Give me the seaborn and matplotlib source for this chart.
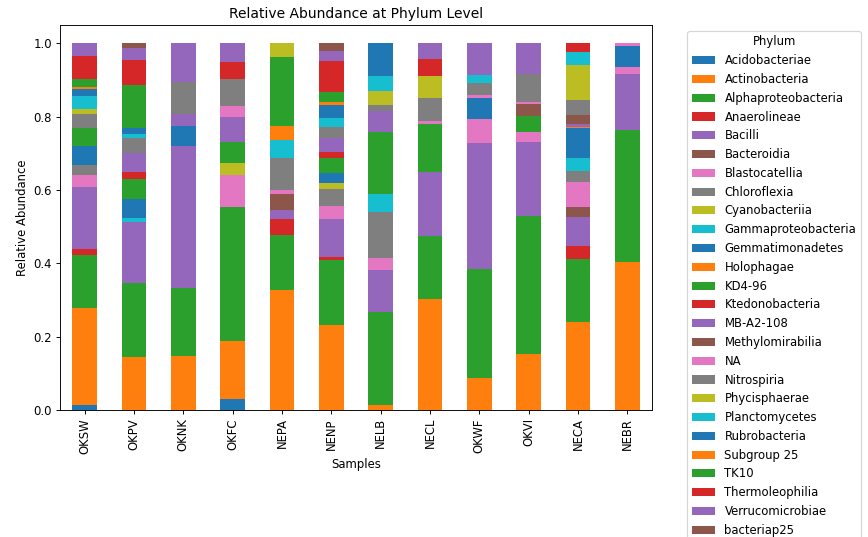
import numpy as np
import pandas as pd
import matplotlib
matplotlib.use("Agg")
import matplotlib.pyplot as plt
from matplotlib.patches import Patch
import seaborn as sns

samples = ["OKSW", "OKPV", "OKNK", "OKFC", "NEPA", "NENP",
           "NELB", "NECL", "OKWF", "OKVI", "NECA", "NEBR"]

phyla = ["Acidobacteriae", "Actinobacteria", "Alphaproteobacteria", "Anaerolineae",
         "Bacilli", "Bacteroidia", "Blastocatellia", "Chloroflexia", "Cyanobacteriia",
         "Gammaproteobacteria", "Gemmatimonadetes", "Holophagae", "KD4-96",
         "Ktedonobacteria", "MB-A2-108", "Methylomirabilia", "NA", "Nitrospiria",
         "Phycisphaerae", "Planctomycetes", "Rubrobacteria", "Subgroup 25", "TK10",
         "Thermoleophilia", "Verrucomicrobiae", "bacteriap25"]

# Relative abundance of each phylum (same order as `phyla`) per sample
OKSW = [0.013, 0.264, 0.146, 0.017, 0.168, 0, 0.032, 0.029, 0, 0, 0.050, 0, 0.050,
        0, 0, 0, 0, 0.039, 0.012, 0.036, 0.019, 0.005, 0.023, 0.062, 0.035, 0]
OKPV = [0, 0.144, 0.202, 0, 0.167, 0, 0, 0, 0, 0.012, 0.051, 0, 0.054,
        0.020, 0.050, 0, 0, 0.041, 0, 0.012, 0.017, 0, 0.116, 0.068, 0.033, 0.013]
OKNK = [0, 0.147, 0.185, 0, 0.389, 0, 0, 0, 0, 0, 0.053, 0, 0,
        0, 0.034, 0, 0, 0.086, 0, 0, 0, 0, 0, 0, 0.106, 0]
OKFC = [0.030, 0.158, 0.367, 0, 0, 0, 0.085, 0, 0.033, 0, 0, 0, 0.059,
        0, 0.066, 0, 0.031, 0.074, 0, 0, 0, 0, 0, 0.046, 0.051, 0]
NEPA = [0, 0.326, 0.151, 0.044, 0.024, 0.043, 0.013, 0.085, 0, 0.051, 0, 0.037, 0.190,
        0, 0, 0, 0, 0, 0.036, 0, 0, 0, 0, 0, 0, 0]
NENP = [0, 0.231, 0.179, 0.008, 0.104, 0, 0.034, 0.048, 0.015, 0, 0.028, 0, 0.041,
        0.016, 0.038, 0, 0, 0.030, 0, 0.025, 0.034, 0.009, 0.028, 0.085, 0.025, 0.022]
NELB = [0, 0.013, 0.255, 0, 0.113, 0, 0.033, 0.127, 0, 0.049, 0, 0, 0.168,
        0, 0.057, 0, 0, 0.016, 0.038, 0.042, 0.089, 0, 0, 0, 0, 0]
NECL = [0, 0.304, 0.170, 0, 0.175, 0, 0, 0, 0, 0, 0, 0, 0.131,
        0, 0, 0, 0.008, 0.062, 0.062, 0, 0, 0, 0, 0.045, 0.043, 0]
OKWF = [0, 0.086, 0.299, 0, 0.342, 0, 0.066, 0, 0, 0, 0.058, 0, 0,
        0, 0, 0, 0.007, 0.033, 0, 0.023, 0, 0, 0, 0, 0.086, 0]
OKVI = [0, 0.152, 0.378, 0, 0.202, 0, 0.026, 0, 0, 0, 0, 0, 0.045,
        0, 0, 0.031, 0.006, 0.076, 0, 0, 0, 0, 0, 0, 0.084, 0]
NECA = [0, 0.240, 0.173, 0.035, 0.079, 0.027, 0.068, 0.031, 0, 0.035, 0.080, 0.005, 0,
        0, 0.007, 0.025, 0, 0.040, 0.095, 0.036, 0, 0, 0, 0.024, 0, 0]
NEBR = [0, 0.404, 0.361, 0, 0.151, 0, 0.019, 0, 0, 0, 0.057, 0, 0,
        0, 0, 0, 0.008, 0, 0, 0, 0, 0, 0, 0, 0, 0]

per_sample = [OKSW, OKPV, OKNK, OKFC, NEPA, NENP, NELB, NECL, OKWF, OKVI, NECA, NEBR]
df = pd.DataFrame(np.array(per_sample), index=samples, columns=phyla)

# tab10 cycles through the 26 phyla
palette = sns.color_palette("tab10", 10)
colors = [palette[i % 10] for i in range(len(phyla))]

DPI = 83.3
fig = plt.figure(figsize=(868 / DPI, 537 / DPI), dpi=DPI)
ax = fig.add_axes([60 / 868, 127 / 537, 592 / 868, 385 / 537])

bottom = np.zeros(len(samples))
for name, color in zip(phyla, colors):
    heights = df[name].to_numpy()
    sns.barplot(x=samples, y=heights, order=samples, bottom=bottom.copy(),
                color=color, saturation=1, width=0.5, errorbar=None,
                linewidth=0, ax=ax)
    bottom += heights

ax.set_xlim(-0.5, len(samples) - 0.5)
ax.set_ylim(0, 1.05)
ax.tick_params(axis="x", rotation=90)
ax.set_title("Relative Abundance at Phylum Level")
ax.set_xlabel("Samples")
ax.set_ylabel("Relative Abundance")

handles = [Patch(facecolor=c, label=p) for p, c in zip(phyla, colors)]
ax.legend(handles=handles, title="Phylum", bbox_to_anchor=(1.05, 1), loc="upper left")

fig.savefig("out.png", dpi=DPI)
